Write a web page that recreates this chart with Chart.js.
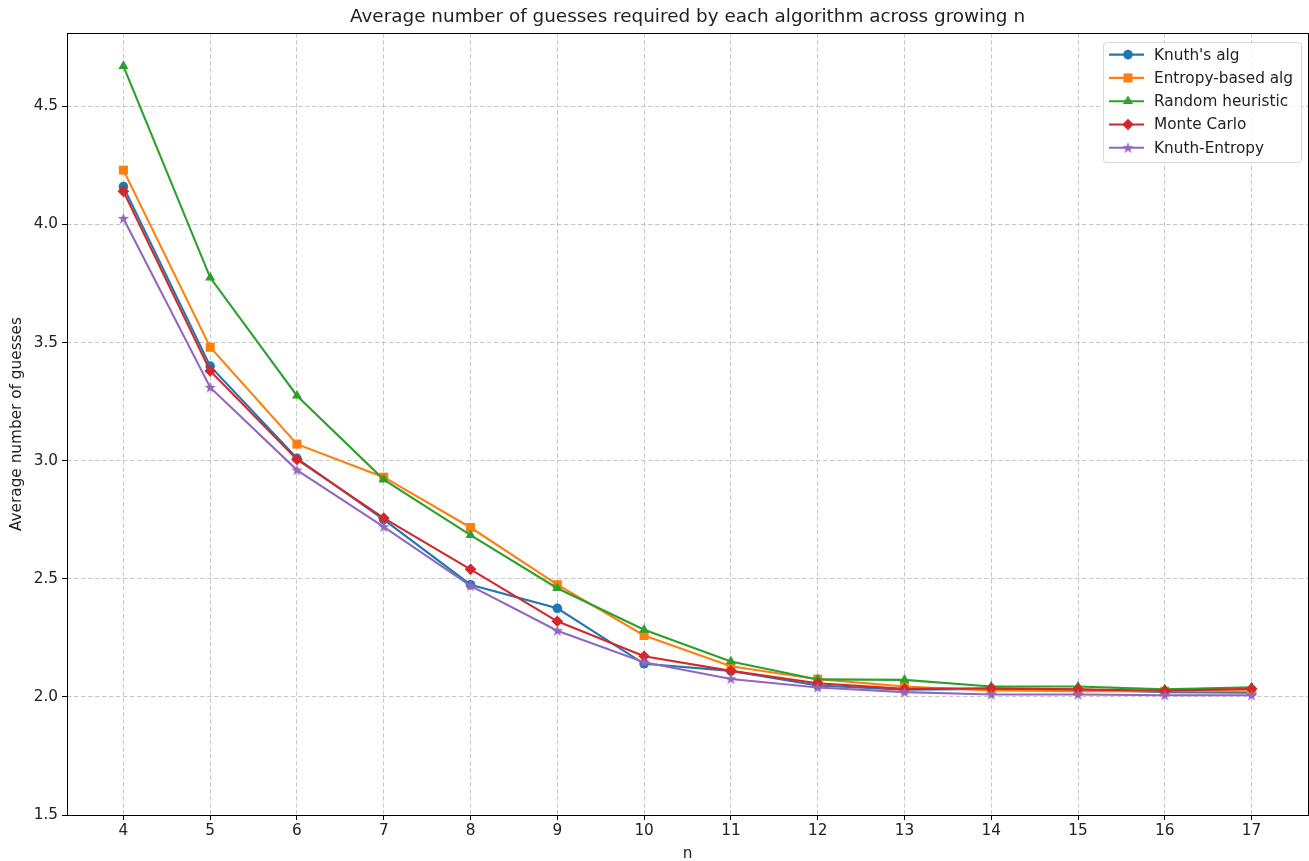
<!DOCTYPE html>
<html>
<head>
<meta charset="utf-8">
<script src="https://cdn.jsdelivr.net/npm/chart.js@4"></script>
<style>
  body { margin: 0; background: #fff; }
  #wrap { width: 1309px; height: 861px; }
</style>
</head>
<body>
<div id="wrap"><canvas id="chart" width="1309" height="861"></canvas></div>
<script>
// values
const nValues = [4, 5, 6, 7, 8, 9, 10, 11, 12, 13, 14, 15, 16, 17];
const yTicks = [1.5, 2.0, 2.5, 3.0, 3.5, 4.0, 4.5];
const knuth = [4.16, 3.40, 3.01, 2.75, 2.475, 2.375, 2.14, 2.11, 2.048, 2.03, 2.034, 2.031, 2.02, 2.018];
const entropy = [4.23, 3.48, 3.07, 2.93, 2.717, 2.475, 2.26, 2.13, 2.075, 2.044, 2.027, 2.024, 2.024, 2.024];
const randomHeuristic = [4.67, 3.775, 3.275, 2.92, 2.685, 2.46, 2.284, 2.15, 2.074, 2.072, 2.044, 2.044, 2.032, 2.041];
const monteCarlo = [4.14, 3.38, 3.005, 2.757, 2.54, 2.32, 2.172, 2.11, 2.058, 2.034, 2.036, 2.032, 2.026, 2.034];
const knuthEntropy = [4.025, 3.31, 2.96, 2.72, 2.47, 2.28, 2.147, 2.076, 2.04, 2.02, 2.01, 2.01, 2.007, 2.007];

const seriesNames = ["Knuth's alg", 'Entropy-based alg', 'Random heuristic', 'Monte Carlo', 'Knuth-Entropy'];
const seriesColors = ['#1f77b4', '#ff7f0e', '#2ca02c', '#d62728', '#9467bd'];

const FONT = '"DejaVu Sans", sans-serif';
const TEXT = '#222';

// filled star marker (Chart.js 'star' is outline only)
function makeStar(color) {
    const c = document.createElement('canvas');
    c.width = 13; c.height = 13;
    const g = c.getContext('2d');
    g.fillStyle = color;
    g.beginPath();
    for (let i = 0; i < 10; i++) {
        const r = i % 2 === 0 ? 6.0 : 2.4;
        const a = -Math.PI / 2 + i * Math.PI / 5;
        const px = 6.5 + r * Math.cos(a), py = 6.8 + r * Math.sin(a);
        if (i === 0) g.moveTo(px, py); else g.lineTo(px, py);
    }
    g.closePath();
    g.fill();
    return c;
}

const markers = [
    { style: 'circle', radius: 4.8 },
    { style: 'rect', radius: 6.4 },
    { style: 'triangle', radius: 5.8 },
    { style: 'rectRot', radius: 5.8 },
    { style: makeStar(seriesColors[4]), radius: 6 }
];

const seriesValues = [knuth, entropy, randomHeuristic, monteCarlo, knuthEntropy];

const datasets = seriesValues.map((vals, i) => ({
    label: seriesNames[i],
    data: nValues.map((n, j) => ({ x: n, y: vals[j] })),
    borderColor: seriesColors[i],
    backgroundColor: seriesColors[i],
    borderWidth: 2.1,
    pointStyle: markers[i].style,
    pointRadius: markers[i].radius,
    pointBorderWidth: 0,
    pointHoverRadius: markers[i].radius,
    tension: 0,
    order: seriesValues.length - i // later series on top, like matplotlib
}));

// frame around the plot area
const framePlugin = {
    id: 'frame',
    afterDatasetsDraw(chart) {
        const { ctx, chartArea: a } = chart;
        ctx.save();
        ctx.strokeStyle = '#000';
        ctx.lineWidth = 1;
        ctx.strokeRect(Math.round(a.left) + 0.5, Math.round(a.top) + 0.5,
            Math.round(a.right - a.left), Math.round(a.bottom - a.top));
        ctx.restore();
    }
};

// legend drawn inside the axes, upper right
const insideLegend = {
    id: 'insideLegend',
    afterDraw(chart) {
        const { ctx, chartArea: a } = chart;
        const boxW = 198, boxH = 120;
        const x0 = a.right - 7 - boxW, y0 = a.top + 9;
        ctx.save();
        ctx.fillStyle = 'rgba(255,255,255,0.8)';
        ctx.strokeStyle = '#d6d6d6';
        ctx.lineWidth = 1;
        ctx.beginPath();
        ctx.roundRect(x0 + 0.5, y0 + 0.5, boxW, boxH, 3);
        ctx.fill();
        ctx.stroke();
        ctx.font = '15.3px ' + FONT;
        ctx.textBaseline = 'middle';
        chart.data.datasets.forEach((ds, i) => {
            const cy = y0 + 12.5 + i * 23.3;
            ctx.strokeStyle = ds.borderColor;
            ctx.lineWidth = 2.1;
            ctx.beginPath();
            ctx.moveTo(x0 + 6, cy);
            ctx.lineTo(x0 + 41, cy);
            ctx.stroke();
            ctx.fillStyle = ds.backgroundColor;
            Chart.helpers.drawPoint(ctx, {
                pointStyle: ds.pointStyle, radius: ds.pointRadius, rotation: 0, borderWidth: 0
            }, x0 + 25, cy);
            ctx.fillStyle = TEXT;
            ctx.fillText(ds.label, x0 + 51, cy + 1);
        });
        ctx.restore();
    }
};

const gridStyle = {
    color: 'rgba(176,176,176,0.7)',
    lineWidth: 1,
    tickColor: '#000',
    tickLength: 5,
    tickWidth: 1,
    tickBorderDash: []
};
const borderStyle = { display: false, dash: [4.5, 2.5] };

new Chart(document.getElementById('chart'), {
    type: 'line',
    data: { datasets: datasets },
    plugins: [framePlugin, insideLegend],
    options: {
        responsive: false,
        animation: false,
        layout: { autoPadding: false, padding: { left: 0, right: 1, top: 0, bottom: 0 } },
        plugins: {
            legend: { display: false },
            tooltip: { enabled: false },
            title: {
                display: true,
                fullSize: false,
                text: 'Average number of guesses required by each algorithm across growing n',
                color: TEXT,
                font: { family: FONT, size: 18.4, weight: 'normal' },
                padding: { top: 6, bottom: 5 }
            }
        },
        scales: {
            x: {
                type: 'linear',
                min: 3.35,
                max: 17.65,
                ticks: {
                    color: TEXT,
                    font: { family: FONT, size: 15.3 },
                    padding: 2
                },
                afterBuildTicks(scale) {
                    scale.ticks = nValues.map(v => ({ value: v }));
                },
                afterFit(scale) { scale.height = 46; },
                grid: gridStyle,
                border: borderStyle,
                title: {
                    display: true,
                    text: 'n',
                    color: TEXT,
                    font: { family: FONT, size: 15.3 },
                    padding: { top: 0, bottom: -2 }
                }
            },
            y: {
                type: 'linear',
                min: 1.5,
                max: 4.81,
                ticks: {
                    color: TEXT,
                    font: { family: FONT, size: 15.3 },
                    padding: 4,
                    callback: v => v.toFixed(1)
                },
                afterBuildTicks(scale) {
                    scale.ticks = yTicks.map(v => ({ value: v }));
                },
                afterFit(scale) { scale.width = 67; },
                grid: gridStyle,
                border: borderStyle,
                title: {
                    display: true,
                    text: 'Average number of guesses',
                    color: TEXT,
                    font: { family: FONT, size: 15.3 },
                    padding: { top: 7.5, bottom: 2 }
                }
            }
        }
    }
});
</script>
</body>
</html>
